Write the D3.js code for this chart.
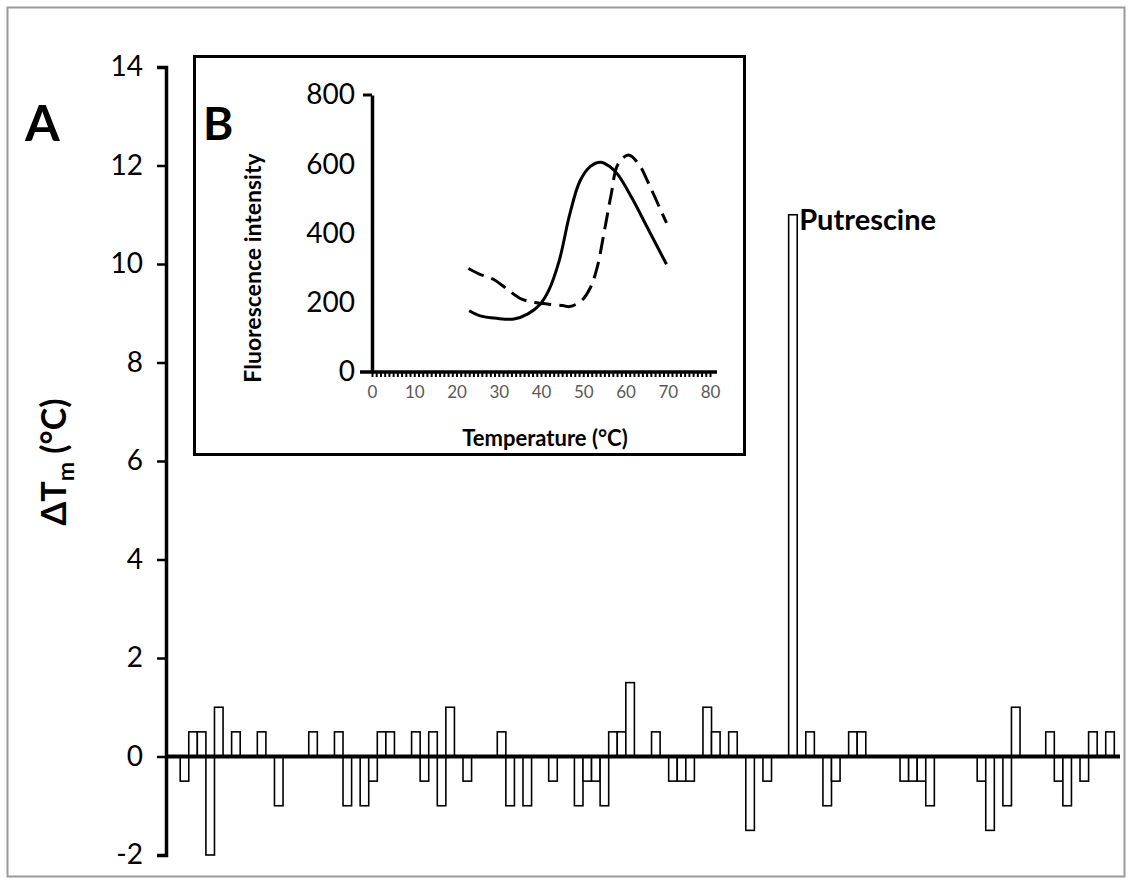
<!DOCTYPE html>
<html>
<head>
<meta charset="utf-8">
<script src="https://cdn.jsdelivr.net/npm/d3@7"></script>
<style>
  body { margin: 0; background: #fff; }
  svg { font-family: Lato, "Open Sans", sans-serif; }
</style>
</head>
<body>
<svg width="1132" height="884"></svg>
<script>
// delta Tm per compound slot (0 = no visible bar)
const DELTA_TM = [
  -0.5, 0.5, 0.5, -2, 1, 0, 0.5, 0, 0, 0.5,
  0, -1, 0, 0, 0, 0.5, 0, 0, 0.5, -1,
  0, -1, -0.5, 0.5, 0.5, 0, 0, 0.5, -0.5, 0.5,
  -1, 1, 0, -0.5, 0, 0, 0, 0.5, -1, 0,
  -1, 0, 0, -0.5, 0, 0, -1, -0.5, -0.5, -1,
  0.5, 0.5, 1.5, 0, 0, 0.5, 0, -0.5, -0.5, -0.5,
  0, 1, 0.5, 0, 0.5, 0, -1.5, 0, -0.5, 0,
  0, 11, 0, 0.5, 0, -1, -0.5, 0, 0.5, 0.5,
  0, 0, 0, 0, -0.5, -0.5, -0.5, -1, 0, 0,
  0, 0, 0, -0.5, -1.5, 0, -1, 1, 0, 0,
  0, 0.5, -0.5, -1, 0, -0.5, 0.5, 0, 0.5
];
const LABELLED = { index: 71, name: "Putrescine" };
const Y_TICKS = [-2, 0, 2, 4, 6, 8, 10, 12, 14];

// inset B: melting curves
const SOLID_T = [23, 25.4, 29.5, 33.6, 36.9, 39.8, 41.8, 44.3, 46.8, 49.2, 51.7, 54.1, 56.2, 58.2, 61.5, 64.8, 69.7];
const SOLID_F = [177, 163, 155, 153, 168, 196, 235, 321, 455, 551, 594, 606, 594, 570, 503, 426, 311];
const DASH_T = [22.8, 25.4, 28.7, 32, 35.3, 38.6, 41.8, 45.1, 46.8, 49.6, 51.7, 53.3, 55, 56.6, 58.2, 60.7, 63.2, 65.6, 68.1, 69.7];
const DASH_F = [299, 283, 268, 239, 211, 201, 196, 192, 189, 206, 244, 302, 407, 512, 599, 627, 599, 541, 474, 431];
const INSET_X_TICKS = [0, 10, 20, 30, 40, 50, 60, 70, 80];
const INSET_Y_TICKS = [0, 200, 400, 600, 800];

const svg = d3.select("svg");

// outer frame
svg.append("rect")
  .attr("x", 7.5).attr("y", 7.5)
  .attr("width", 1117).attr("height", 869)
  .attr("fill", "none").attr("stroke", "#9a9a9a").attr("stroke-width", 2);

function drawMain() {
  const x = d3.scaleBand()
    .domain(d3.range(DELTA_TM.length))
    .range([180.2, 1114.3])
    .padding(0);
  const y = d3.scaleLinear().domain([-2, 14]).range([855, 67]);

  const g = svg.append("g");

  g.selectAll("rect.bar")
    .data(DELTA_TM.map((v, i) => ({ v, i })).filter(d => d.v !== 0))
    .enter()
    .append("rect")
    .attr("class", "bar")
    .attr("x", d => x(d.i))
    .attr("width", x.bandwidth())
    .attr("y", d => y(Math.max(0, d.v)))
    .attr("height", d => Math.abs(y(d.v) - y(0)))
    .attr("fill", "#fff")
    .attr("stroke", "#000")
    .attr("stroke-width", 1.6);

  // x axis line at zero
  g.append("line")
    .attr("x1", 165).attr("x2", 1120)
    .attr("y1", y(0)).attr("y2", y(0))
    .attr("stroke", "#000").attr("stroke-width", 4);

  const yAxis = g.append("g")
    .attr("transform", "translate(166,0)")
    .call(d3.axisLeft(y).tickValues(Y_TICKS).tickSize(9).tickPadding(14).tickFormat(d => String(d)));
  yAxis.select(".domain").attr("stroke-width", 3.5);
  yAxis.selectAll(".tick line").attr("stroke-width", 2.5);
  yAxis.selectAll(".tick text")
    .attr("font-size", 28)
    .attr("fill", "#000")
    .attr("font-family", "Lato, sans-serif");

  g.append("text")
    .attr("x", x(LABELLED.index) + x.bandwidth() + 2)
    .attr("y", y(DELTA_TM[LABELLED.index]) + 15)
    .attr("font-size", 29).attr("font-weight", "bold")
    .text(LABELLED.name);

  // y title
  const title = g.append("text")
    .attr("transform", "translate(66,462) rotate(-90)")
    .attr("text-anchor", "middle")
    .attr("font-size", 34).attr("font-weight", "bold");
  title.append("tspan").text("\u0394T");
  title.append("tspan").attr("font-size", 23).attr("dy", 8).text("m");
  title.append("tspan").attr("dy", -8).text(" (\u00b0C)");

  g.append("text")
    .attr("x", 25).attr("y", 141)
    .attr("font-size", 50).attr("font-weight", "bold")
    .text("A");
}

function drawInset() {
  const g = svg.append("g");

  g.append("rect")
    .attr("x", 194.5).attr("y", 56.5)
    .attr("width", 550).attr("height", 398)
    .attr("fill", "#fff").attr("stroke", "#000").attr("stroke-width", 3);

  const x = d3.scaleLinear().domain([0, 80]).range([372, 710]);
  const y = d3.scaleLinear().domain([0, 800]).range([372, 95]);

  // minor ticks every degree (dotted look under the axis)
  const minor = g.append("g")
    .attr("transform", `translate(0,${y(0)})`)
    .call(d3.axisBottom(x).tickValues(d3.range(0, 81, 1)).tickSize(5).tickFormat(""));
  minor.select(".domain").remove();
  minor.selectAll(".tick line").attr("stroke-width", 2);

  const xAxis = g.append("g")
    .attr("transform", `translate(0,${y(0)})`)
    .call(d3.axisBottom(x).tickValues(INSET_X_TICKS).tickSize(0).tickPadding(14));
  xAxis.select(".domain").remove();
  xAxis.selectAll(".tick text")
    .attr("font-size", 17).attr("fill", "#595959")
    .attr("font-family", "Lato, sans-serif");

  g.append("line")
    .attr("x1", 360).attr("x2", 717)
    .attr("y1", y(0)).attr("y2", y(0))
    .attr("stroke", "#000").attr("stroke-width", 3.5);

  const yAxis = g.append("g")
    .attr("transform", `translate(${x(0)},0)`)
    .call(d3.axisLeft(y).tickValues(INSET_Y_TICKS).tickSize(0).tickPadding(17));
  yAxis.select(".domain").attr("stroke-width", 3.5);
  yAxis.selectAll(".tick text")
    .attr("font-size", 28).attr("fill", "#000")
    .attr("font-family", "Lato, sans-serif");
  g.append("line")
    .attr("x1", x(0) - 9).attr("x2", x(0))
    .attr("y1", y(800)).attr("y2", y(800))
    .attr("stroke", "#000").attr("stroke-width", 3);

  const line = d3.line()
    .x(d => x(d[0]))
    .y(d => y(d[1]))
    .curve(d3.curveCatmullRom);

  g.append("path")
    .datum(SOLID_T.map((t, i) => [t, SOLID_F[i]]))
    .attr("d", line)
    .attr("fill", "none").attr("stroke", "#000").attr("stroke-width", 3);

  g.append("path")
    .datum(DASH_T.map((t, i) => [t, DASH_F[i]]))
    .attr("d", line)
    .attr("fill", "none").attr("stroke", "#000").attr("stroke-width", 3)
    .attr("stroke-dasharray", "17,8");

  g.append("text")
    .attr("x", 545).attr("y", 446)
    .attr("text-anchor", "middle")
    .attr("font-size", 22).attr("font-weight", "bold")
    .text("Temperature (\u00b0C)");

  g.append("text")
    .attr("transform", "translate(261,268) rotate(-90)")
    .attr("text-anchor", "middle")
    .attr("font-size", 23).attr("font-weight", "bold")
    .text("Fluorescence intensity");

  g.append("text")
    .attr("x", 203).attr("y", 140)
    .attr("font-size", 46).attr("font-weight", "bold")
    .text("B");
}

drawMain();
drawInset();
</script>
</body>
</html>
